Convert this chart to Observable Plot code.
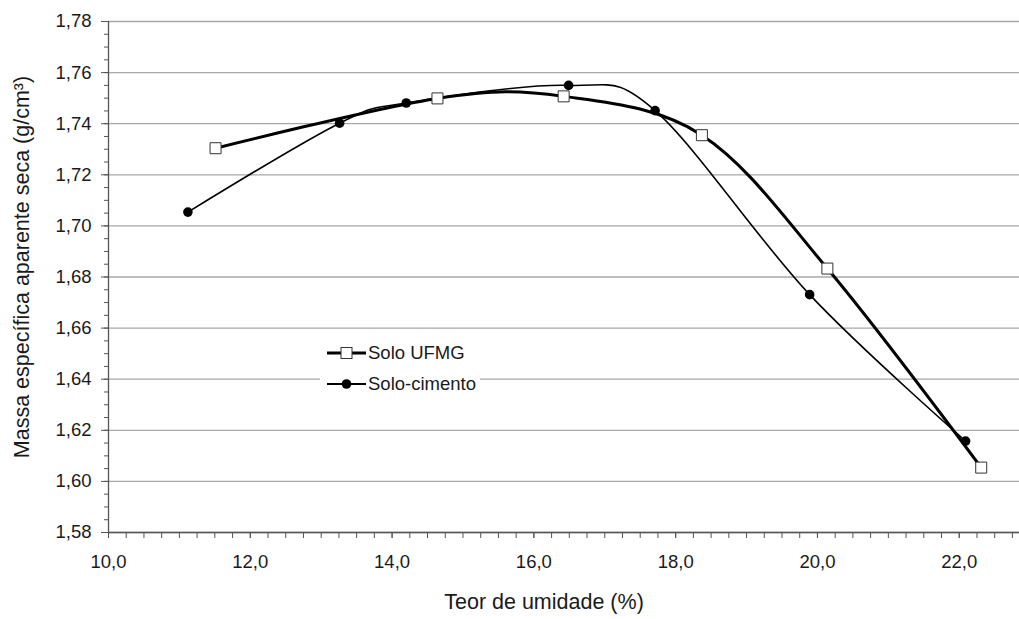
<!DOCTYPE html>
<html>
<head>
<meta charset="utf-8">
<script src="https://cdn.jsdelivr.net/npm/d3@7"></script>
<script src="https://cdn.jsdelivr.net/npm/@observablehq/plot@0.6"></script>
<style>
  html, body { margin: 0; padding: 0; background: #fff; }
  #wrap { position: relative; width: 1019px; height: 619px; font-family: "Liberation Sans", Arial, sans-serif; }
  #legend { position: absolute; left: 320px; top: 336px; width: 160px; height: 64px; background: #fff; }
</style>
</head>
<body>
<div id="wrap"><div id="chart"></div><div id="legend"></div></div>
<script>
// ---- data ----
const seriesNames = ["Solo UFMG", "Solo-cimento"];
const ufmgX = [11.51, 14.64, 16.42, 18.37, 20.14, 22.31];
const ufmgY = [1.7304, 1.7499, 1.7507, 1.7355, 1.6833, 1.6054];
const cimX = [11.12, 13.26, 14.20, 16.49, 17.71, 19.89, 22.09];
const cimY = [1.7054, 1.7402, 1.7481, 1.7550, 1.7451, 1.6731, 1.6158];
const xTicks = [10, 12, 14, 16, 18, 20, 22];
const yTicks = [1.58, 1.60, 1.62, 1.64, 1.66, 1.68, 1.70, 1.72, 1.74, 1.76, 1.78];
const xTitle = "Teor de umidade (%)";
const yTitle = "Massa específica aparente seca (g/cm³)";

const ufmg = ufmgX.map((x, i) => ({x, y: ufmgY[i]}));
const cim = cimX.map((x, i) => ({x, y: cimY[i]}));
const xMinor = d3.range(10, 22.86, 0.25);
const yMinor = d3.range(1.58, 1.7801, 0.005);

const fx = d => d.toFixed(1).replace(".", ",");
const fy = d => d.toFixed(2).replace(".", ",");

const chart = Plot.plot({
  width: 1019,
  height: 619,
  marginLeft: 108,
  marginRight: 0,
  marginTop: 21,
  marginBottom: 87,
  style: {fontFamily: "'Liberation Sans', Arial, sans-serif", fontSize: "18.5px", color: "#1a1a1a", background: "#fff"},
  x: {domain: [10, 22.85]},
  y: {domain: [1.58, 1.78]},
  marks: [
    Plot.gridY(yTicks, {stroke: "#a8a8a8", strokeOpacity: 1, strokeWidth: 1.3}),
    Plot.axisX(xMinor, {tickSize: 6, stroke: "#555", text: null, label: null}),
    Plot.axisX(xTicks, {tickSize: 6, tickPadding: 16, tickFormat: fx, stroke: "#555", label: null, fontSize: "18.5px"}),
    Plot.axisY(yMinor, {tickSize: 4, stroke: "#555", text: null, label: null}),
    Plot.axisY(yTicks, {tickSize: 7, tickPadding: 10, tickFormat: fy, stroke: "#555", label: null, fontSize: "18.5px"}),
    Plot.ruleX([10], {stroke: "#555", strokeWidth: 1.3}),
    Plot.ruleY([1.58], {stroke: "#555", strokeWidth: 1.3}),
    Plot.line(cim, {x: "x", y: "y", curve: "cardinal", stroke: "#000", strokeWidth: 1.6}),
    Plot.line(ufmg, {x: "x", y: "y", curve: "cardinal", stroke: "#000", strokeWidth: 3}),
    Plot.dot(cim, {x: "x", y: "y", r: 4.8, fill: "#000", stroke: "none"}),
    Plot.dot(ufmg, {x: "x", y: "y", r: 6.2, symbol: "square", fill: "#fff", stroke: "#333", strokeWidth: 1}),
    Plot.text([xTitle], {frameAnchor: "bottom", dy: 76, dx: -20, fontSize: 21.5, fill: "#1a1a1a"}),
    Plot.text([yTitle], {frameAnchor: "left", textAnchor: "middle", rotate: -90, dx: -86, dy: -10, fontSize: 21.5, fill: "#1a1a1a"})
  ]
});
document.getElementById("chart").appendChild(chart);

// ---- legend ----
const lg = d3.select("#legend").append("svg").attr("width", 160).attr("height", 64)
  .style("font-family", "'Liberation Sans', Arial, sans-serif");
seriesNames.forEach((name, i) => {
  const g = lg.append("g").attr("transform", `translate(0, ${17 + i * 31})`);
  g.append("line").attr("x1", 7).attr("x2", 46).attr("y1", 0).attr("y2", 0)
    .attr("stroke", "#000").attr("stroke-width", i === 0 ? 3 : 1.8);
  if (i === 0) {
    g.append("rect").attr("x", 21).attr("y", -5.5).attr("width", 11).attr("height", 11)
      .attr("fill", "#fff").attr("stroke", "#333");
  } else {
    g.append("circle").attr("cx", 26.5).attr("cy", 0).attr("r", 4.8).attr("fill", "#000");
  }
  g.append("text").attr("x", 48).attr("y", 0).attr("dy", "0.35em")
    .attr("font-size", "18.5px").attr("fill", "#1a1a1a").text(name);
});
</script>
</body>
</html>
